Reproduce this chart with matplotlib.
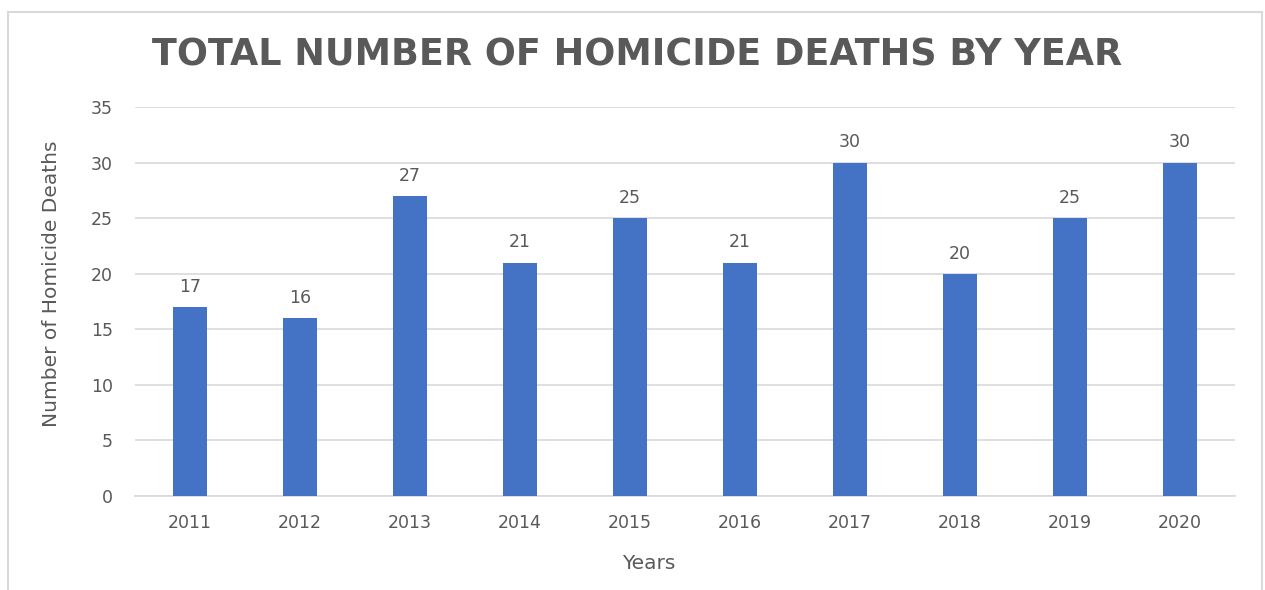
import matplotlib
matplotlib.use("Agg")
import matplotlib.pyplot as plt
from matplotlib.patches import Rectangle

years = ["2011", "2012", "2013", "2014", "2015", "2016", "2017", "2018", "2019", "2020"]
deaths = [17, 16, 27, 21, 25, 21, 30, 20, 25, 30]
yticks = [0, 5, 10, 15, 20, 25, 30, 35]

plt.rcParams['font.family'] = ['DejaVu Sans']
gray = "#595959"

fig = plt.figure(figsize=(12.65, 5.9), dpi=100)
ax = fig.add_axes([135/1265, 1-496/590, 1100/1265, 389/590])

x = list(range(len(years)))
ax.bar(x, deaths, width=0.31, color="#4472C4", zorder=3)
for xi, v in zip(x, deaths):
    ax.annotate(str(v), (xi, v), xytext=(0, 8), textcoords="offset points",
                ha="center", va="bottom", fontsize=12.5, color=gray)

ax.set_xlim(-0.5, len(years) - 0.5)
ax.set_ylim(0, 35)
ax.set_yticks(yticks)
ax.set_xticks(x)
ax.set_xticklabels(years)
ax.tick_params(axis="both", length=0, labelsize=12.5, labelcolor=gray)
ax.tick_params(axis="y", pad=16)
ax.tick_params(axis="x", pad=13)
ax.grid(axis="y", color="#D9D9D9", linewidth=1.2, zorder=0)
for s in ["top", "right", "left"]:
    ax.spines[s].set_visible(False)
ax.spines["bottom"].set_color("#D9D9D9")
ax.spines["bottom"].set_linewidth(1.2)

ax.set_xlabel("Years", fontsize=14.5, color=gray)
ax.xaxis.set_label_coords(0.467, -0.150)
ax.set_ylabel("Number of Homicide Deaths", fontsize=14.5, color=gray)
ax.yaxis.set_label_coords(-0.067, 0.545)

fig.text(637/1265, 1-55/590, "TOTAL NUMBER OF HOMICIDE DEATHS BY YEAR",
         ha="center", va="center", fontsize=26.3, fontweight="bold", color=gray)

# chart border
fig.patches.append(Rectangle((8/1265, -0.01), 1254/1265, 1-12/590 + 0.01,
                             transform=fig.transFigure, fill=False,
                             edgecolor="#D9D9D9", linewidth=1.5))

fig.savefig("out.png", dpi=100)
